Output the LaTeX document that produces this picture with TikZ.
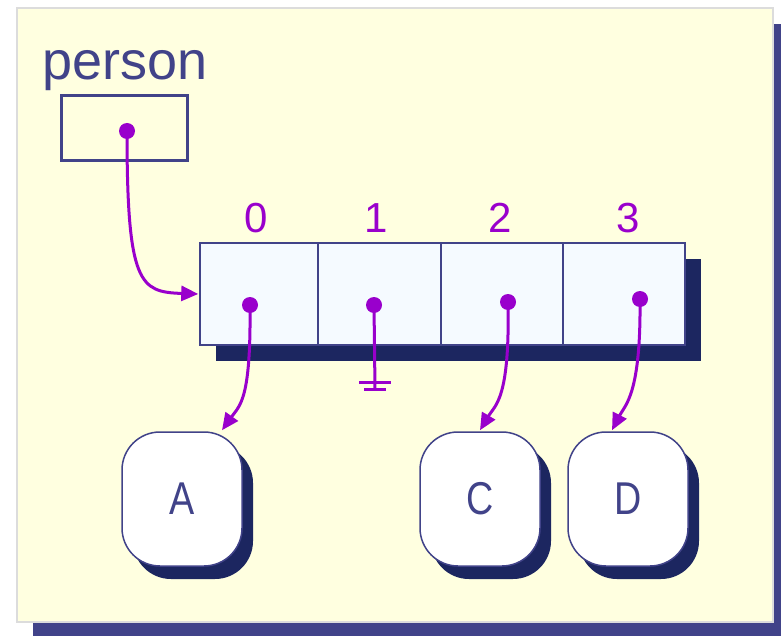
\documentclass[tikz,border=0pt]{standalone}
\usepackage{fontspec}
\setmainfont{Liberation Sans}
\newfontfamily\narrowfont[FakeStretch=0.82]{Liberation Sans}
\usetikzlibrary{arrows.meta,shadows}
\definecolor{ink}{HTML}{414389}
\definecolor{navy}{HTML}{1C2660}
\definecolor{pur}{HTML}{9900CC}
\definecolor{panel}{HTML}{FFFFE0}
\definecolor{panelline}{HTML}{DCDCDC}
\definecolor{cellfill}{HTML}{F5FAFF}
\tikzset{
  cellbox/.style={draw=ink, line width=1.5pt, fill=cellfill, minimum height=102pt, inner sep=0pt},
  idx/.style={text=pur, font=\fontsize{42}{48}\selectfont, inner sep=0pt},
  valbox/.style={draw=ink, line width=1.5pt, fill=white, rounded corners=38pt,
    minimum width=120pt, minimum height=134pt, inner sep=0pt,
    text=ink, font=\narrowfont\fontsize{46}{52}\selectfont,
    general shadow={shadow xshift=11pt, shadow yshift=-13pt, fill=navy}},
  ptr/.style={draw=pur, line width=3pt, -{Triangle[length=17pt,width=15pt]}},
  dot/.style={fill=pur},
}
\begin{document}
\begin{tikzpicture}[x=1pt,y=-1pt]
\useasboundingbox (0,0) rectangle (781,636);
\fill[white] (0,0) rectangle (781,636);
\fill[ink] (33,24) rectangle (781,636);
\filldraw[fill=panel, draw=panelline, line width=1.5pt] (17,8) rectangle (773,622);

% person variable
\node[anchor=base west, text=ink, font=\fontsize{54}{60}\selectfont, inner sep=0pt] (plabel) at (42,80) {person};
\node[draw=ink, line width=3pt, minimum width=126pt, minimum height=65pt, inner sep=0pt] (pbox) at (124,128.5) {};
\coordinate (pd) at (127,131);

% array
\fill[navy] (216,259) rectangle (701,361);
\node[cellbox, minimum width=118pt] (c0) at (259,294) {};
\node[cellbox, minimum width=123pt] (c1) at (379.5,294) {};
\node[cellbox, minimum width=122pt] (c2) at (502,294) {};
\node[cellbox, minimum width=122pt] (c3) at (624,294) {};
\node[idx] (i0) at (256,218) {0};
\node[idx] (i1) at (376,218) {1};
\node[idx] (i2) at (500,218) {2};
\node[idx] (i3) at (628,218) {3};
\coordinate (d0) at (250,305);
\coordinate (d1) at (374,305);
\coordinate (d2) at (508,302);
\coordinate (d3) at (640,299);

% value boxes
\node[valbox] (A) at (182,499) {A};
\node[valbox] (C) at (480,499) {C};
\node[valbox] (D) at (628,499) {D};

% connectors
\draw[ptr] (pd) .. controls (127,285) and (140,292) .. ([xshift=-1pt]c0.west);
\draw[ptr] (d0) .. controls (251,400) and (240,405) .. ([xshift=40pt,yshift=1pt]A.north);
\draw[ptr] (d2) .. controls (510,400) and (495,405) .. ([yshift=1pt]C.north);
\draw[ptr] (d3) .. controls (641,395) and (625,405) .. ([xshift=-16pt,yshift=1pt]D.north);
\coordinate (g) at (375,389);
\draw[pur, line width=3pt] (d1) -- (g);
\draw[pur, line width=3pt] ([xshift=-11pt]g) -- ([xshift=11pt]g);
\draw[pur, line width=3pt] ([xshift=-16pt,yshift=7pt]g) -- ([xshift=16pt,yshift=7pt]g);

\foreach \d in {pd,d0,d1,d2,d3} \fill[dot] (\d) circle (8pt);
\end{tikzpicture}
\end{document}
